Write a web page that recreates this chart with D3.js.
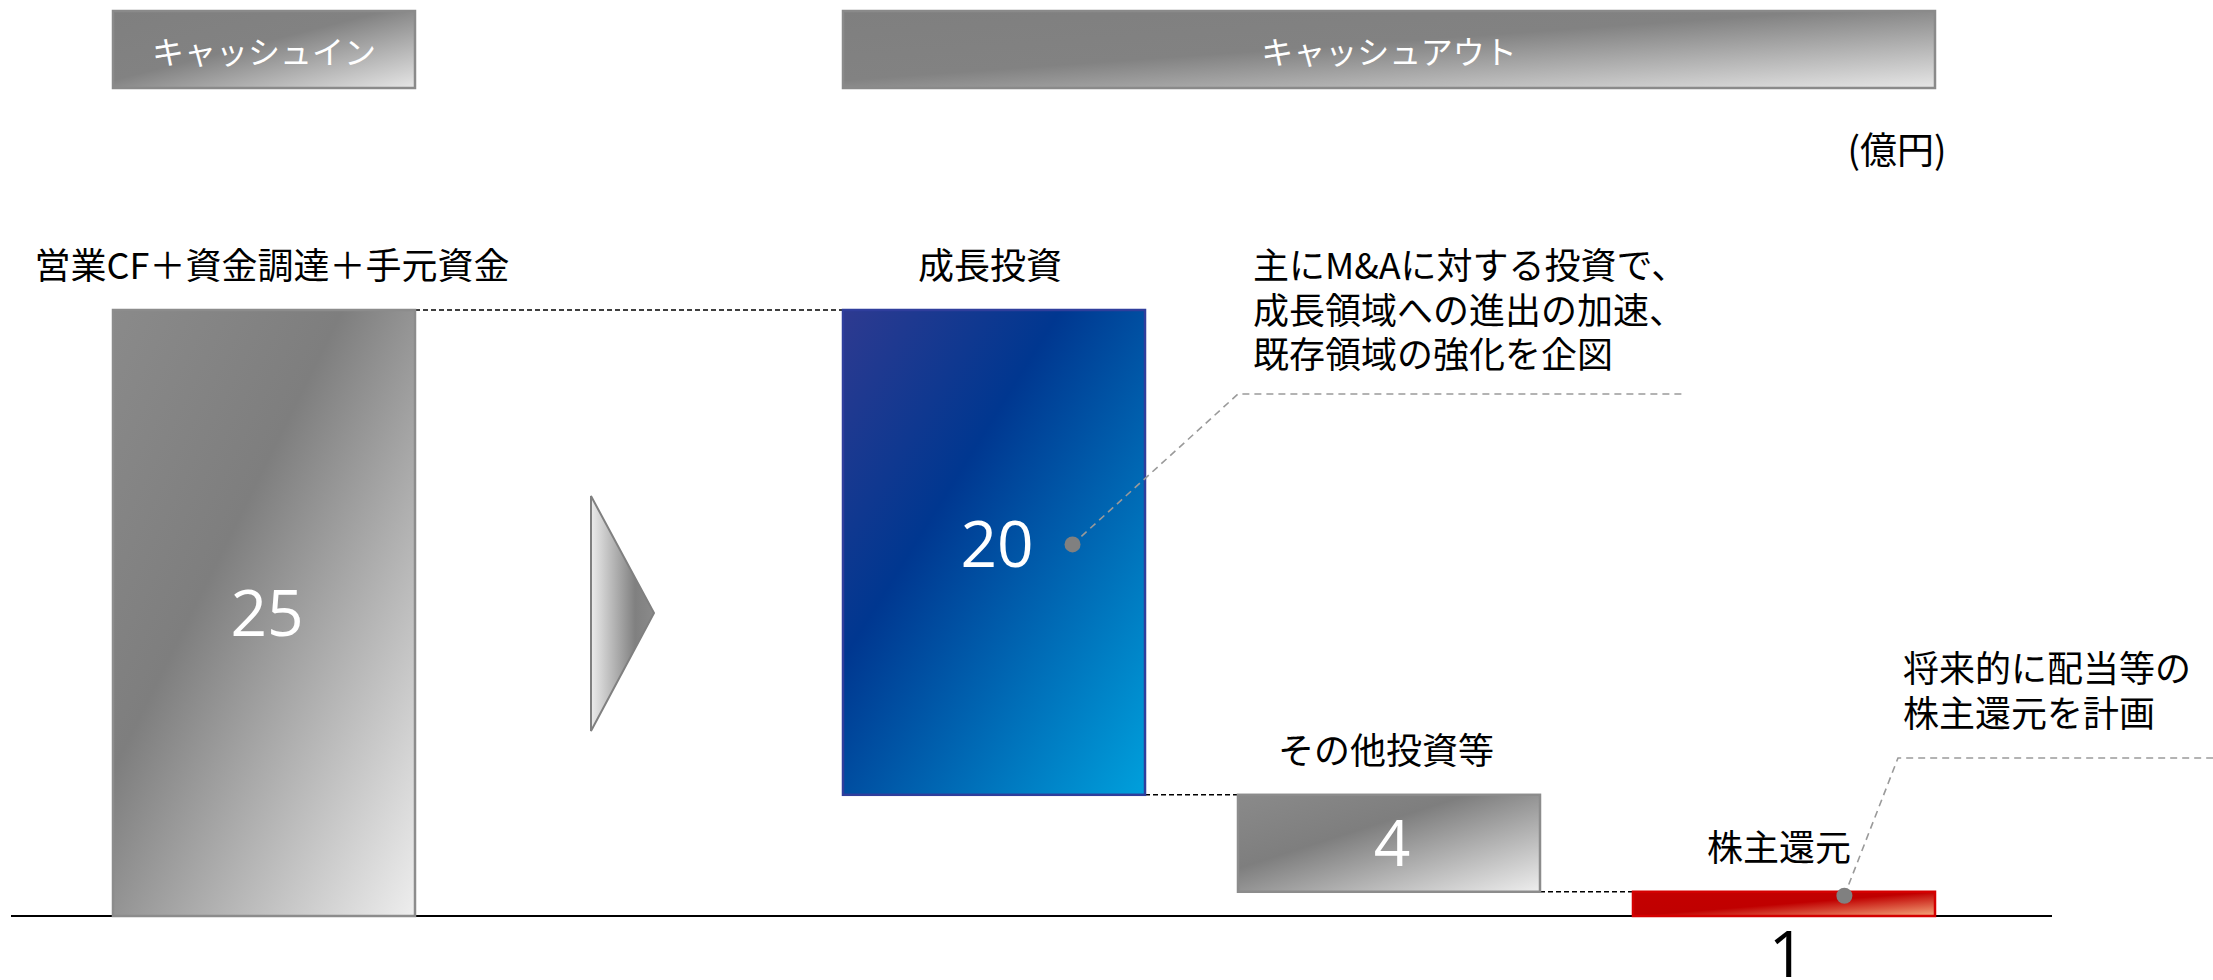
<!DOCTYPE html>
<html lang="ja">
<head>
<meta charset="utf-8">
<script src="https://cdn.jsdelivr.net/npm/d3@7"></script>
<style>
  html, body { margin: 0; padding: 0; background: #ffffff; }
  svg { display: block; }
</style>
</head>
<body>
<svg id="chart" width="2213" height="980"></svg>
<script>
// ---- data ----
const groups = ["キャッシュイン", "キャッシュアウト"];
const inCategories = ["営業CF＋資金調達＋手元資金"];
const outCategories = ["成長投資", "その他投資等", "株主還元"];
const inValues = [25];
const outValues = [20, 4, 1];
const unitLabel = "(億円)";
const growthNote = ["主にM&Aに対する投資で、", "成長領域への進出の加速、", "既存領域の強化を企図"];
const returnNote = ["将来的に配当等の", "株主還元を計画"];

// ---- layout ----
const W = 2213, H = 980;
const svg = d3.select("#chart");
const JP = "'Noto Sans CJK JP', 'Noto Sans', sans-serif";
const NUM = "'Open Sans', 'Noto Sans', sans-serif";

const y = d3.scaleLinear().domain([0, 25]).range([916, 310]);
const xIn = d3.scaleBand().domain(inCategories).range([113, 415]).padding(0);
const xOut = d3.scaleBand().domain(outCategories).range([843, 1935])
  .paddingInner(0.2354).paddingOuter(0);

// waterfall segments: cash-in rises from zero, cash-out steps down from the total
const total = d3.sum(inValues);
const bars = [];
inCategories.forEach((c, i) => bars.push({
  cat: c, value: inValues[i], lo: 0, hi: inValues[i],
  x: xIn(c), w: xIn.bandwidth(), fill: "gGray", stroke: "#8c8c8c", dy: 0, catDx: 8
}));
let running = total;
const outStyles = [
  { fill: "gBlue", stroke: "#2f3e9c", dy: -8, catDx: -4 },
  { fill: "gGray", stroke: "#8c8c8c", dy: 0, catDx: -3 },
  { fill: "gRed", stroke: "#d40000", dy: 0, catDx: -5 }
];
outCategories.forEach((c, i) => {
  const hi = running, lo = running - outValues[i];
  running = lo;
  bars.push({ cat: c, value: outValues[i], lo, hi,
    x: xOut(c), w: xOut.bandwidth(), ...outStyles[i] });
});

// ---- gradients ----
const defs = svg.append("defs");
function diag(id, stops, x2 = 1, y2 = 1) {
  const g = defs.append("linearGradient").attr("id", id)
    .attr("x1", 0).attr("y1", 0).attr("x2", x2).attr("y2", y2);
  stops.forEach(([o, c]) => g.append("stop").attr("offset", o).attr("stop-color", c));
}
diag("gGray", [[0, "#8a8a8a"], [0.38, "#7e7e7e"], [1, "#eeeeee"]]);
diag("gHead", [[0, "#7f7f7f"], [0.45, "#828282"], [1, "#e6e6e6"]]);
diag("gBlue", [[0, "#2e3a90"], [0.36, "#003790"], [1, "#00a0dc"]]);
diag("gRed", [[0, "#c40000"], [0.5, "#c00000"], [1, "#f5a97c"]]);
diag("gArrow", [[0, "#ececec"], [0.7, "#808080"], [1, "#8a8a8a"]], 1, 0);

// ---- group headers ----
const headers = [
  { label: groups[0], range: xIn.range() },
  { label: groups[1], range: xOut.range() }
];
const hg = svg.append("g").selectAll("g").data(headers).join("g");
hg.append("rect")
  .attr("x", d => d.range[0]).attr("y", 11)
  .attr("width", d => d.range[1] - d.range[0]).attr("height", 77)
  .attr("fill", "url(#gHead)").attr("stroke", "#8a8a8a").attr("stroke-width", 2.5);
hg.append("text")
  .attr("x", d => (d.range[0] + d.range[1]) / 2).attr("y", 50)
  .attr("text-anchor", "middle").attr("dominant-baseline", "central")
  .attr("font-family", JP).attr("font-size", 32).attr("fill", "#ffffff")
  .text(d => d.label);

// unit
svg.append("text").attr("x", 1897).attr("y", 148)
  .attr("text-anchor", "middle").attr("dominant-baseline", "central")
  .attr("font-family", JP).attr("font-size", 37).attr("fill", "#000")
  .text(unitLabel);

// ---- baseline ----
svg.append("line")
  .attr("x1", 11).attr("x2", 2052)
  .attr("y1", y(0)).attr("y2", y(0))
  .attr("stroke", "#000").attr("stroke-width", 2);

// ---- dashed connectors between consecutive bars ----
const links = d3.pairs(bars).map(([a, b]) => ({ x1: a.x + a.w, x2: b.x, v: b.hi }));
svg.append("g").selectAll("line").data(links).join("line")
  .attr("x1", d => d.x1).attr("x2", d => d.x2)
  .attr("y1", d => y(d.v)).attr("y2", d => y(d.v))
  .attr("stroke", "#000").attr("stroke-width", 1.5).attr("stroke-dasharray", "5,3");

// ---- bars ----
svg.append("g").selectAll("rect").data(bars).join("rect")
  .attr("x", d => d.x).attr("y", d => y(d.hi))
  .attr("width", d => d.w).attr("height", d => y(d.lo) - y(d.hi))
  .attr("fill", d => `url(#${d.fill})`)
  .attr("stroke", d => d.stroke).attr("stroke-width", 2.5);

// category labels above bars
svg.append("g").selectAll("text").data(bars).join("text")
  .attr("x", d => d.x + d.w / 2 + d.catDx).attr("y", d => y(d.hi) - 47)
  .attr("text-anchor", "middle").attr("dominant-baseline", "central")
  .attr("font-family", JP).attr("font-size", 36).attr("fill", "#000")
  .text(d => d.cat);

// value labels: inside when the bar is tall enough, below the axis otherwise
const FS = 64;
const fits = d => y(d.lo) - y(d.hi) > 60;
const midY = d => (y(d.lo) + y(d.hi)) / 2 + d.dy;
svg.append("g").selectAll("text").data(bars).join("text")
  .attr("x", d => d.x + d.w / 2 + 3)
  .attr("y", d => fits(d) ? midY(d) + FS * 0.36 : y(0) + 61)
  .attr("text-anchor", "middle")
  .attr("font-family", NUM).attr("font-size", FS)
  .attr("fill", d => (fits(d) ? "#ffffff" : "#000000"))
  .text(d => d.value);

// ---- flow arrow between cash-in and cash-out ----
const arrowMid = y(total / 2);
svg.append("path")
  .attr("d", `M591,${arrowMid - 117} L654,${arrowMid} L591,${arrowMid + 118} Z`)
  .attr("fill", "url(#gArrow)").attr("stroke", "#808080").attr("stroke-width", 2)
  .attr("stroke-linejoin", "miter");

// ---- callouts ----
const growthBar = bars[1], returnBar = bars[3];
const callouts = [
  {
    dot: [growthBar.x + growthBar.w * 0.76, midY(growthBar)],
    elbow: [xOut(outCategories[1]), 394], end: 1682,
    text: growthNote, tx: 1253, ty: 263, lh: 44.5
  },
  {
    dot: [returnBar.x + returnBar.w * 0.70, y(returnBar.hi) + 4],
    elbow: [1898, 758], end: W,
    text: returnNote, tx: 1903, ty: 666, lh: 45
  }
];
const cg = svg.append("g").selectAll("g").data(callouts).join("g");
cg.append("path")
  .attr("d", d => `M${d.dot[0]},${d.dot[1]} L${d.elbow[0]},${d.elbow[1]} L${d.end},${d.elbow[1]}`)
  .attr("fill", "none").attr("stroke", "#9a9a9a").attr("stroke-width", 1.6)
  .attr("stroke-dasharray", "7,5");
cg.append("circle")
  .attr("cx", d => d.dot[0]).attr("cy", d => d.dot[1]).attr("r", 8)
  .attr("fill", "#808080");
cg.each(function (d) {
  d3.select(this).selectAll("text").data(d.text).join("text")
    .attr("x", d.tx).attr("y", (t, i) => d.ty + i * d.lh)
    .attr("dominant-baseline", "central")
    .attr("font-family", JP).attr("font-size", 36).attr("fill", "#000")
    .text(t => t);
});
</script>
</body>
</html>
